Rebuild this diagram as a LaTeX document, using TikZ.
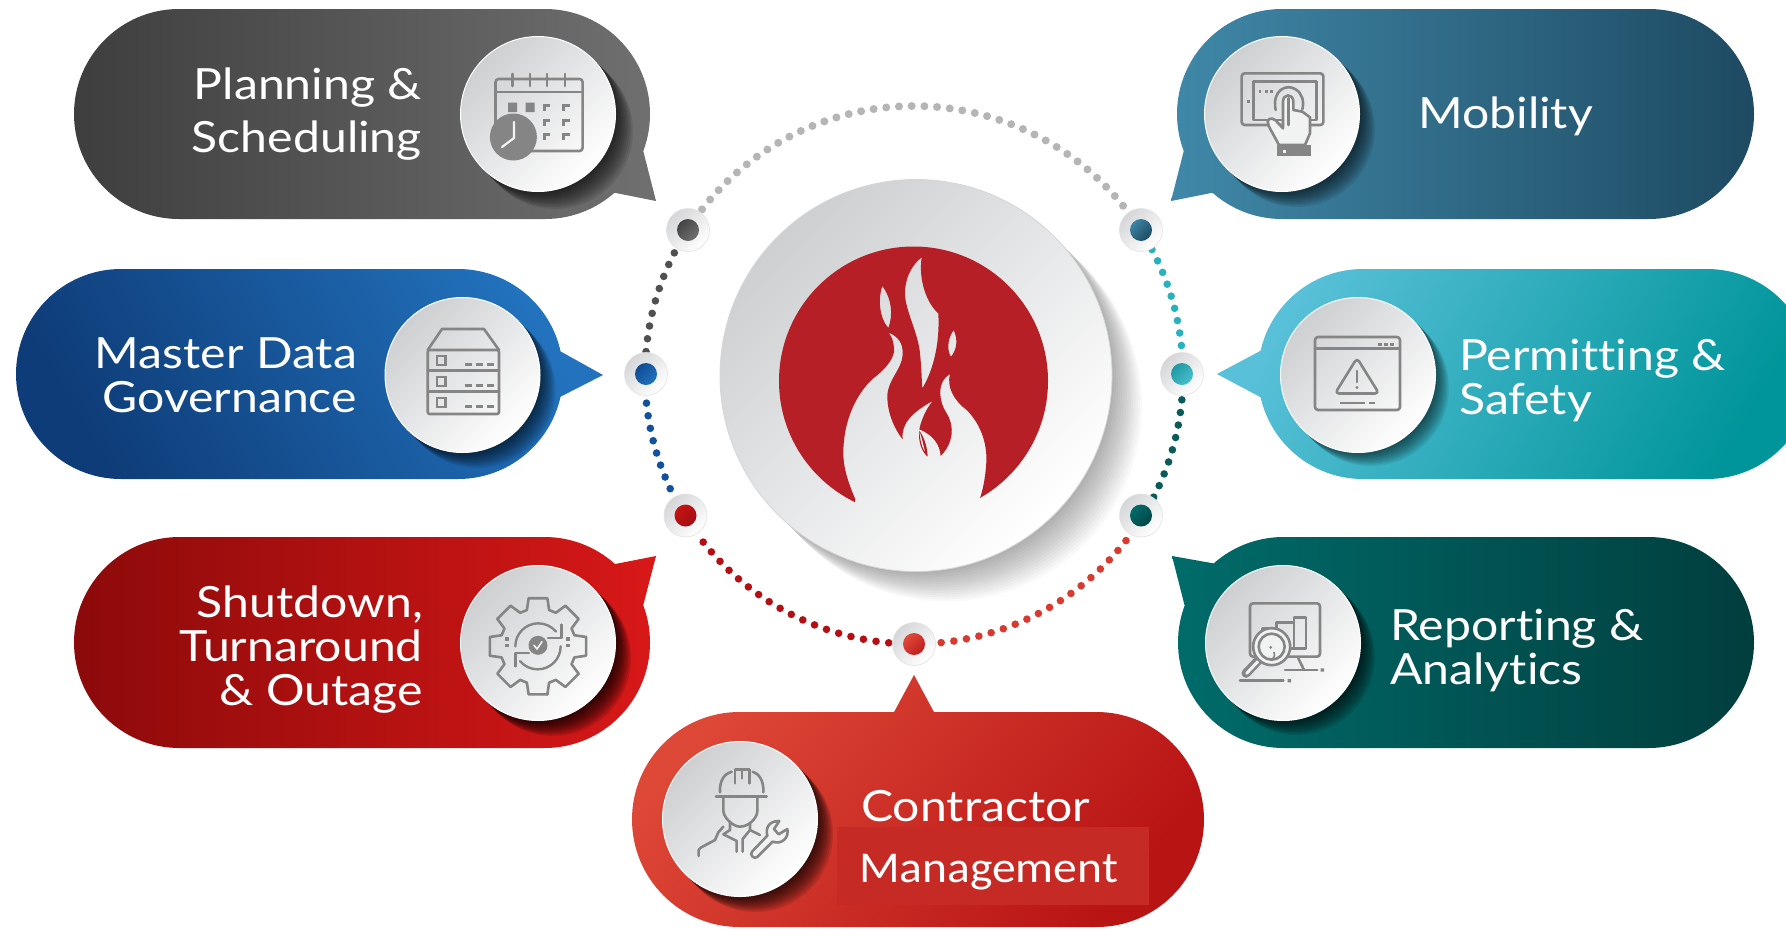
\documentclass[tikz,border=0pt]{standalone}
\usepackage{fontspec}
\setmainfont{Lato}[FakeStretch=1.12,Ligatures=NoCommon]
\newfontfamily\calfont{Carlito}[FakeStretch=1.08]
\newcommand\dc[1]{\definecolor{#1}{HTML}{#1}}
\dc{3E3E3E}\dc{707070}\dc{2272BD}\dc{0E3C78}\dc{8C0A0A}\dc{D81818}\dc{4088A8}\dc{1E4A62}\dc{58C0D8}\dc{00959A}\dc{006C6A}\dc{013E3E}\dc{DE4837}\dc{B81414}\dc{C62A25}\dc{B5B5B5}\dc{505050}\dc{11519E}\dc{B30F14}\dc{D73A2E}\dc{0B5A5A}\dc{2BB0BD}\dc{444444}\dc{0E4C94}\dc{C81212}\dc{A00F14}\dc{3C84A4}\dc{2099A5}\dc{48BFCC}\dc{024444}\dc{BE1E1E}\dc{B71F27}\dc{E04A38}
\definecolor{ic}{HTML}{858585}
\definecolor{platefill}{HTML}{F1F2F2}
\definecolor{CFD1D3}{HTML}{CDCFD1}
\definecolor{D9DADB}{HTML}{D5D6D8}
\definecolor{E6E6E6}{HTML}{E2E2E2}
\tikzset{
  labeltext/.style={text=white,inner sep=0pt,font=\fontsize{43}{44}\selectfont},
  bigplate/.style={circle,inner sep=0pt,minimum size=155pt,top color=CFD1D3,bottom color=white,shading angle=45,draw=white,line width=1pt},
  smallplate/.style={circle,inner sep=0pt,minimum size=43pt,top color=D9DADB,bottom color=white,shading angle=45,draw=E6E6E6,line width=.6pt},
  smalldot/.style 2 args={circle,inner sep=0pt,minimum size=22pt,top color=#1,bottom color=#2,shading angle=45},
  iconline/.style={draw=ic,line width=2.6pt,line join=round,line cap=round},
  zoomframe/.style={x=.3333pt,y=-.3333pt},
}
\newcommand\pillpath[4]{(#1+#4,#2) -- (#3-#4,#2) arc[start angle=90,end angle=-90,radius=#4pt] -- (#1+#4,#2+2*#4) arc[start angle=270,end angle=90,radius=#4pt] -- cycle}
\newcommand\softshadow[6]{\foreach \i in {1,...,#5}{\fill[black,opacity=#6] ({#1+#4*\i/#5},{#2+#4*\i/#5}) circle[radius=#3];}}
\newcommand\ringdots[5]{\foreach \i in {0,...,#3}{\fill[#4] ({914+269*cos(#1+(#2-#1)*\i/#3)},{375-269*sin(#1+(#2-#1)*\i/#3)}) circle[radius=#5];}}
\begin{document}
\begin{tikzpicture}[x=1pt,y=-1pt]
\useasboundingbox (0,0) rectangle (1786,930);
\clip (0,0) rectangle (1786,930);
\fill[white] (0,0) rectangle (1786,930);

% ---------- pills
\shade[left color=3E3E3E,right color=707070] \pillpath{74}{9}{650}{105} (643,150) -- (656,201) -- (611,192) -- cycle;
\shade[top color=2272BD,bottom color=0E3C78,shading angle=-60] \pillpath{16}{269}{563}{105} (558,350) -- (603,375) -- (558,398) -- cycle;
\shade[left color=8C0A0A,right color=D81818] \pillpath{74}{537}{650}{105.5} (610,565) -- (656,556) -- (643,606) -- cycle;
\shade[left color=4088A8,right color=1E4A62] \pillpath{1177}{9}{1754}{105} (1216,192) -- (1171,201) -- (1184,150) -- cycle;
\shade[top color=58C0D8,bottom color=00959A,shading angle=60] \pillpath{1258}{269}{1812}{105} (1262,398) -- (1217,374) -- (1262,350) -- cycle;
\shade[left color=006C6A,right color=013E3E] \pillpath{1178}{537}{1754}{105.5} (1185,607) -- (1172,556) -- (1217,564) -- cycle;
\shade[top color=DE4837,bottom color=B81414,shading angle=50] \pillpath{632}{712}{1204}{107.5} (893,714) -- (914,675) -- (935,714) -- cycle;
\fill[fill=C62A25] (837,827) rectangle (1149,905);

% ---------- shadows of the icon plates
\softshadow{538}{114}{78}{17}{10}{.09}
\softshadow{462.5}{375}{78}{15}{10}{.08}
\softshadow{538}{643}{78}{15}{10}{.12}
\softshadow{1282}{114}{78}{15}{10}{.08}
\softshadow{1358}{375}{78}{13}{10}{.07}
\softshadow{1283}{643}{78}{14}{10}{.09}
\softshadow{740}{819}{78}{15}{10}{.11}

% ---------- icon plates
\node[bigplate] (planplate) at (538,114) {};
\node[bigplate] (dataplate) at (462.5,375) {};
\node[bigplate] (shutplate) at (538,643) {};
\node[bigplate] (mobplate) at (1282,114) {};
\node[bigplate] (permplate) at (1358,375) {};
\node[bigplate] (repplate) at (1283,643) {};
\node[bigplate] (contplate) at (740,819) {};

% ---------- ring
\ringdots{142}{39}{38}{fill=B5B5B5}{4}
\ringdots{153}{175}{8}{fill=505050}{3.8}
\ringdots{186}{205}{7}{fill=11519E}{3.8}
\ringdots{218.4}{264.6}{17}{fill=B30F14}{3.8}
\ringdots{275.8}{322}{17}{fill=D73A2E}{3.8}
\ringdots{333}{354.7}{8}{fill=0B5A5A}{3.8}
\ringdots{6.3}{27.8}{8}{fill=2BB0BD}{3.8}

\node[smallplate] (ngray) at (688,230) {};
\node[smallplate] (nblue) at (646,374) {};
\node[smallplate] (nred) at (685.5,515.5) {};
\node[smallplate] (nmob) at (1141,230) {};
\node[smallplate] (ncyan) at (1182,374) {};
\node[smallplate] (nteal) at (1141,515.5) {};
\node[smallplate] (ncont) at (914,644) {};
\node[smalldot={444444}{707070}] (dgray) at (ngray) {};
\node[smalldot={0E4C94}{2272BD}] (dblue) at (nblue) {};
\node[smalldot={C81212}{A00F14}] (dred) at (nred) {};
\node[smalldot={3C84A4}{1E4A62}] (dmob) at (nmob) {};
\node[smalldot={2099A5}{48BFCC}] (dcyan) at (ncyan) {};
\node[smalldot={006C6A}{024444}] (dteal) at (nteal) {};
\node[smalldot={E04A38}{BE1E1E}] (dcont) at (ncont) {};

% ---------- centre plate
\softshadow{916}{375.5}{196}{30}{14}{.022}
\node[circle,inner sep=0pt,minimum size=392pt,top color=CFD1D3,bottom color=white,shading angle=45,draw=D9DADB,line width=.8pt] (centre) at (916,375.5) {};
\begin{scope}
\clip (913.5,381) circle[radius=134.5];
\begin{scope}[shift={(790,240)},zoomframe]
\fill[fill=B71F27,even odd rule] (-100,-100) rectangle (900,950)
  (196,778) .. controls (172,722) and (160,680) .. (160,640)
  .. controls (160,540) and (200,460) .. (250,415)
  .. controls (290,385) and (316,350) .. (312,325)
  .. controls (310,300) and (305,290) .. (296,278)
  .. controls (325,290) and (340,310) .. (338,345)
  .. controls (335,390) and (292,420) .. (292,470)
  .. controls (292,520) and (315,570) .. (338,598)
  .. controls (332,550) and (370,515) .. (428,483)
  .. controls (410,505) and (395,535) .. (388,568)
  .. controls (430,585) and (450,615) .. (452,648)
  .. controls (490,610) and (495,560) .. (470,520)
  .. controls (450,490) and (435,430) .. (480,402)
  .. controls (470,440) and (490,480) .. (530,510)
  .. controls (575,555) and (595,620) .. (588,680)
  .. controls (585,720) and (578,750) .. (570,775)
  -- (610,920) -- (170,920) -- cycle
  (395,52) .. controls (360,80) and (345,120) .. (345,160)
  .. controls (345,210) and (385,280) .. (390,340)
  .. controls (395,390) and (395,420) .. (397,445)
  .. controls (430,390) and (450,310) .. (445,220)
  .. controls (410,190) and (385,120) .. (395,52) -- cycle
  (277,138) .. controls (265,170) and (265,230) .. (295,264)
  .. controls (310,225) and (305,175) .. (277,138) -- cycle
  (491,270) .. controls (470,300) and (472,335) .. (483,350)
  .. controls (500,330) and (505,300) .. (491,270) -- cycle;
\fill[fill=B71F27] (388,572) .. controls (384,605) and (395,635) .. (413,650) .. controls (412,625) and (405,595) .. (388,572) .. controls (398,600) and (402,625) .. (406,638) .. controls (396,625) and (390,600) .. (388,572) -- cycle;
\end{scope}
\end{scope}

% ---------- texts
\node[labeltext,align=right,anchor=base east,font=\fontsize{43}{53}\selectfont] (plantext) at (422,152) {Planning \&\\Scheduling};
\node[labeltext,align=right,anchor=base east] (datatext) at (357,412) {Master Data\\Governance};
\node[labeltext,align=right,anchor=base east] (shuttext) at (423,705) {Shutdown,\\Turnaround\\\& Outage};
\node[labeltext,anchor=base west] (mobtext) at (1418,128) {Mobility};
\node[labeltext,align=left,anchor=base west] (permtext) at (1459,414) {Permitting \&\\Safety};
\node[labeltext,align=left,anchor=base west] (reptext) at (1390,684) {Reporting \&\\Analytics};
\node[labeltext,anchor=base west] (conttext) at (861,821) {Contractor};
\node[labeltext,anchor=base west,font=\calfont\fontsize{44}{44}\selectfont] (mgmttext) at (859,882) {Management};

% ---------- icon: calendar
\draw[iconline,rounded corners=3pt] (495.5,79) rectangle (582.6,151);
\draw[iconline] (495.5,92) -- (582.6,92);
\foreach \x in {512.5,530,547,565}{\draw[iconline] (\x,74) -- (\x,86);}
\fill[ic] (508,102.5) rectangle (517,112) (525.5,102.5) rectangle (534.5,112);
\foreach \x in {546.4,565.6}{\foreach \y in {107,122,136}{\draw[draw=ic,line width=2.4pt] (\x-2,\y+4) -- (\x-2,\y-1.5) -- (\x+4,\y-1.5);}}
\fill[ic] (513.4,137) circle[radius=23.5];
\draw[draw=platefill,line width=2.2pt,line cap=round,line join=round] (514,122) -- (514,138) -- (502,147);

% ---------- icon: server
\draw[iconline,rounded corners=2pt] (427.7,350) rectangle (499,414);
\draw[iconline] (427.7,350) -- (442,329) -- (484,329) -- (499,350);
\draw[iconline] (427.7,370.5) -- (499,370.5) (427.7,391.5) -- (499,391.5);
\foreach \y in {356,377,398}{
  \draw[draw=ic,line width=2.2pt] (437,\y) rectangle (445.5,\y+9);
  \foreach \x in {465,476,487}{\fill[ic] (\x,\y+6.5) rectangle (\x+6.5,\y+10);}
}

% ---------- icon: gear
\begin{scope}[shift={(483,588)},zoomframe]
\begin{scope}[shift={(165,175)}]
\foreach \a in {0,45,...,315}{
 \draw[iconline] (\a-11:147) -- (\a+11:147) -- (\a+17:114) -- (\a+28:114) -- (\a+34:147);
}
\draw[iconline,line width=2.4pt] (-68,0) arc[start angle=180,end angle=40,radius=23pt];
\draw[iconline,line width=2.4pt] (68,0) arc[start angle=0,end angle=-140,radius=23pt];
\fill[ic] (0,-3) circle[radius=9.5pt];
\draw[draw=platefill,line width=1.6pt,line cap=round,line join=round] (-12,-3) -- (-3,8) -- (12,-14);
\draw[iconline] (70,-65) -- (70,-25) -- (30,-25);
\draw[iconline] (-67,60) -- (-67,20) -- (-27,20);
\foreach \p in {-93,90}{\foreach \q in {-22,-3}{\fill[ic] (\p-5,\q-5) rectangle (\p+5,\q+5);}}
\end{scope}
\end{scope}

% ---------- icon: tablet and hand
\begin{scope}[shift={(1225,60)},zoomframe]
\draw[iconline,rounded corners=3pt] (50,40) rectangle (295,195);
\draw[iconline] (85,65) rectangle (275,180);
\foreach \x in {105,125,140}{\fill[ic] (\x-4,91) rectangle (\x+4,99);}
\fill[ic] (66,120) rectangle (74,128);
\draw[iconline,fill=platefill] (162,255) -- (132,200) -- (128,184) .. controls (132,170) and (150,175) .. (160,190) -- (174,205) -- (174,125) .. controls (174,100) and (205,100) .. (205,125) -- (205,150) -- (232,155) -- (255,172) -- (255,220) -- (240,255) -- cycle;
\draw[iconline] (152,150) .. controls (140,90) and (185,70) .. (212,88) .. controls (232,100) and (238,125) .. (232,148);
\draw[iconline] (190,115) -- (190,195);
\fill[ic] (157,255) rectangle (259,288);
\fill[platefill] (174,270) rectangle (183,279);
\end{scope}

% ---------- icon: window with warning sign
\draw[iconline,rounded corners=3pt] (1315,337) rectangle (1400,410);
\draw[iconline] (1315,348.5) -- (1400,348.5);
\foreach \x in {1380,1386,1392}{\fill[ic] (\x-1.7,342.5) rectangle (\x+1.7,345.5);}
\draw[iconline,rounded corners=4pt] (1357,358) -- (1379,393.5) -- (1335,393.5) -- cycle;
\draw[iconline] (1357,371) -- (1357,382);
\fill[ic] (1357,387.5) circle[radius=1.6];
\draw[iconline,line cap=butt] (1340,403) -- (1365,403) (1369,403) -- (1375,403);

% ---------- icon: monitor and magnifier
\begin{scope}[shift={(1230,590)},zoomframe]
\draw[iconline,rounded corners=3pt] (60,40) rectangle (270,200);
\draw[iconline] (98,150) -- (98,115) -- (140,115) -- (140,98) -- (192,98) -- (192,82) -- (228,82) -- (228,175) -- (185,175);
\draw[iconline] (140,115) -- (140,125) (192,98) -- (192,175);
\draw[iconline] (205,205) -- (222,240);
\draw[iconline] (165,240) -- (262,240) (30,272) -- (160,272);
\fill[ic] (272,235) rectangle (282,245) (173,267) rectangle (183,277);
\draw[iconline,line width=9pt] (88,208) -- (48,250);
\draw[draw=platefill,line width=3pt,line cap=round] (84,214) -- (50,250);
\draw[iconline,fill=platefill] (125,170) circle[radius=18.5pt];
\draw[iconline] (125,170) circle[radius=13pt];
\draw[draw=ic,line width=1.6pt,line cap=round] (132,187) .. controls (136,197) and (132,205) .. (122,210);
\fill[ic] (122,172) circle[radius=1.5pt];
\end{scope}

% ---------- icon: worker and wrench
\begin{scope}[shift={(680,755)},zoomframe]
\draw[iconline] (108,125) -- (260,125);
\draw[iconline] (120,112) .. controls (118,75) and (135,55) .. (155,50);
\draw[iconline] (250,112) .. controls (252,75) and (235,55) .. (218,50);
\draw[iconline] (165,85) -- (165,43) -- (208,43) -- (208,85);
\draw[iconline] (186,45) -- (186,70);
\draw[iconline] (130,130) -- (130,168) .. controls (132,190) and (160,215) .. (180,215) .. controls (205,215) and (232,190) .. (232,168) -- (232,130);
\draw[iconline] (150,200) -- (150,225) -- (130,238) -- (170,258) -- (170,290);
\draw[iconline] (210,205) -- (210,225) -- (240,240) (210,225) -- (188,252) -- (188,290);
\draw[iconline] (130,215) -- (115,232) -- (105,255) -- (62,278) -- (56,285) -- (56,303);
\draw[iconline,fill=platefill] (216,290) -- (262,242) .. controls (255,215) and (270,198) .. (298,198) -- (282,222) -- (296,238) -- (322,222) .. controls (328,248) and (305,270) .. (278,260) -- (232,306) .. controls (222,314) and (208,300) .. (216,290) -- cycle;
\end{scope}
\end{tikzpicture}
\end{document}
